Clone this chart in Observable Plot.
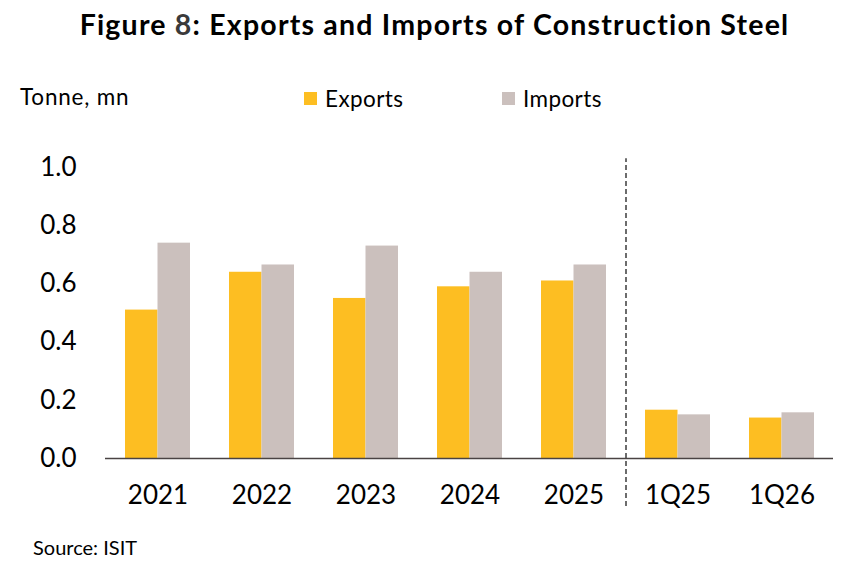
<!DOCTYPE html>
<html>
<head>
<meta charset="utf-8">
<script src="https://cdn.jsdelivr.net/npm/d3@7"></script>
<script src="https://cdn.jsdelivr.net/npm/@observablehq/plot@0.6"></script>
<style>
  html, body { margin: 0; padding: 0; background: #fff; }
  #chart { position: relative; width: 855px; height: 577px; font-family: Lato, "Open Sans", sans-serif; color: #000; overflow: hidden; font-variant-ligatures: none; }
  #chart svg { position: absolute; left: 0; top: 0; }
  .title { position: absolute; left: 7px; top: 7px; width: 855px; text-align: center; font-weight: 700; font-size: 28.5px; letter-spacing: 1.2px; }
  .title .num { color: #3a3a3a; }
  .unit { position: absolute; left: 20px; top: 83px; font-size: 22.5px; letter-spacing: 0.8px; }
  .legend { position: absolute; top: 85px; font-size: 22.5px; letter-spacing: 0.4px; display: flex; align-items: center; }
  .legend .sw { width: 13px; height: 13px; margin-right: 8px; }
  .source { position: absolute; left: 33px; top: 535px; font-size: 20px; }
</style>
</head>
<body>
<div id="chart">
  <div class="title">Figure <span class="num">8</span>: Exports and Imports of Construction Steel</div>
  <div class="unit">Tonne, mn</div>
  <div class="legend" id="legExp" style="left:304px"><span class="sw"></span><span>Exports</span></div>
  <div class="legend" id="legImp" style="left:502px"><span class="sw"></span><span>Imports</span></div>
  <div class="source">Source: ISIT</div>
</div>
<script>
// Periods on the x axis
const categories = ["2021", "2022", "2023", "2024", "2025", "1Q25", "1Q26"];
// Construction steel volumes, million tonnes
const exportsMn = [0.51, 0.64, 0.55, 0.59, 0.61, 0.166, 0.139];
const importsMn = [0.74, 0.665, 0.73, 0.64, 0.665, 0.15, 0.157];
// Y axis ticks
const yTicks = [0, 0.2, 0.4, 0.6, 0.8, 1.0];
// Annual figures end here; quarterly figures follow
const firstQuarter = "1Q25";

const colorExports = "#FDBE22";
const colorImports = "#CBC0BD";

const rows = categories.map((c, i) => ({period: c, exports: exportsMn[i], imports: importsMn[i]}));

const half = 32.5; // half of the band width: each series takes one half

const plot = Plot.plot({
  width: 855,
  height: 577,
  marginLeft: 105,
  marginRight: 22,
  marginTop: 167,
  marginBottom: 119,
  style: {fontFamily: "Lato, 'Open Sans', sans-serif", fontSize: "26px", color: "#000", background: "transparent", overflow: "visible"},
  x: {type: "band", domain: categories, paddingInner: 0.375, paddingOuter: 0.1875, label: null},
  y: {domain: [0, 1], label: null},
  marks: [
    Plot.barY(rows, {x: "period", y: "exports", fill: colorExports, insetRight: half, insetLeft: 0}),
    Plot.barY(rows, {x: "period", y: "imports", fill: colorImports, insetLeft: half, insetRight: 0}),
    Plot.ruleY([0], {stroke: "#4a4343", strokeWidth: 1.6}),
    // dashed separator between the annual and quarterly groups
    Plot.ruleX([firstQuarter], {y1: -0.165, y2: 1.03, dx: -52, stroke: "#3c3c3c", strokeWidth: 1.5, strokeDasharray: "5,3"}),
    Plot.axisX({tickSize: 0, tickPadding: 27, fontSize: 26}),
    Plot.axisY({ticks: yTicks, tickFormat: d3.format(".1f"), tickSize: 0, tickPadding: 29, fontSize: 26})
  ]
});
document.getElementById("chart").prepend(plot);

document.querySelector("#legExp .sw").style.background = colorExports;
document.querySelector("#legImp .sw").style.background = colorImports;
</script>
</body>
</html>
